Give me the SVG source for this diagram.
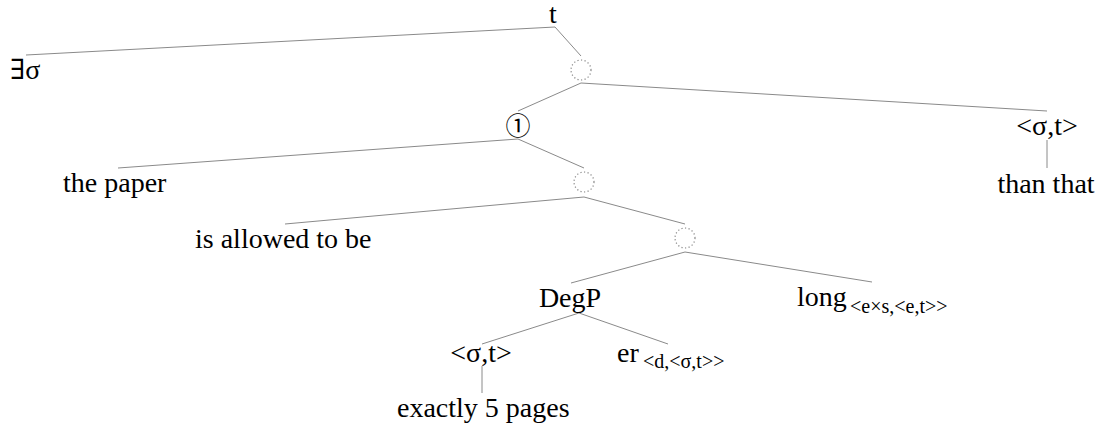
<svg xmlns="http://www.w3.org/2000/svg" width="1102" height="423" viewBox="0 0 1102 423">
  <style>
    .lbl { font-family: "Liberation Serif", "Times New Roman", "DejaVu Serif", serif; font-size: 28px; fill: #000; }
    .sub { font-size: 20px; }
    .mark { font-family: "Noto Sans CJK JP", "DejaVu Sans", sans-serif; font-size: 25px; fill: #000; }
    .mid { text-anchor: middle; }
    .edge { stroke: #8a8a8a; stroke-width: 1; fill: none; }
    .empty { stroke: #8a8a8a; stroke-width: 1.2; fill: none; stroke-dasharray: 1.2 2.4; }
  </style>
  <rect width="1102" height="423" fill="#fff"/>

  <!-- tree branches -->
  <g id="connectors">
    <line class="edge" x1="555" y1="27" x2="26" y2="55"/>
    <line class="edge" x1="555" y1="27" x2="581" y2="56"/>
    <line class="edge" x1="581" y1="83" x2="518" y2="111"/>
    <line class="edge" x1="581" y1="83" x2="1047" y2="111"/>
    <line class="edge" x1="518" y1="139" x2="118" y2="168"/>
    <line class="edge" x1="518" y1="139" x2="584" y2="168"/>
    <line class="edge" x1="584" y1="197" x2="285" y2="224"/>
    <line class="edge" x1="584" y1="197" x2="685" y2="224"/>
    <line class="edge" x1="685" y1="252" x2="571" y2="283"/>
    <line class="edge" x1="685" y1="252" x2="872" y2="282"/>
    <line class="edge" x1="579" y1="313" x2="482" y2="344"/>
    <line class="edge" x1="579" y1="313" x2="668" y2="344"/>
    <line class="edge" x1="482" y1="366" x2="482" y2="393"/>
    <line class="edge" x1="1047" y1="140" x2="1047" y2="168"/>
  </g>

  <g id="root"><text class="lbl mid" x="553" y="23">t</text></g>
  <g id="exists"><text class="lbl" x="10" y="79">∃σ</text></g>
  <g id="empty1"><circle class="empty" cx="581" cy="70" r="10"/></g>
  <g id="index1"><text class="mark mid" x="518" y="135">①</text></g>
  <g id="than-type"><text class="lbl mid" x="1047" y="135">&lt;σ,t&gt;</text></g>
  <g id="than-that"><text class="lbl mid" x="1046" y="193">than that</text></g>
  <g id="the-paper"><text class="lbl" x="63" y="192">the paper</text></g>
  <g id="empty2"><circle class="empty" cx="584" cy="182" r="10"/></g>
  <g id="allowed"><text class="lbl" x="195" y="248">is allowed to be</text></g>
  <g id="empty3"><circle class="empty" cx="685" cy="238" r="10"/></g>
  <g id="degp"><text class="lbl mid" x="570" y="307">DegP</text></g>
  <g id="long"><text class="lbl" x="797" y="306">long<tspan class="sub" x="850" y="313">&lt;e×s,&lt;e,t&gt;&gt;</tspan></text></g>
  <g id="deg-type"><text class="lbl mid" x="481" y="362">&lt;σ,t&gt;</text></g>
  <g id="er"><text class="lbl" x="617" y="362">er<tspan class="sub" x="643" y="368">&lt;d,&lt;σ,t&gt;&gt;</tspan></text></g>
  <g id="exactly"><text class="lbl" x="397" y="417">exactly 5 pages</text></g>
</svg>
